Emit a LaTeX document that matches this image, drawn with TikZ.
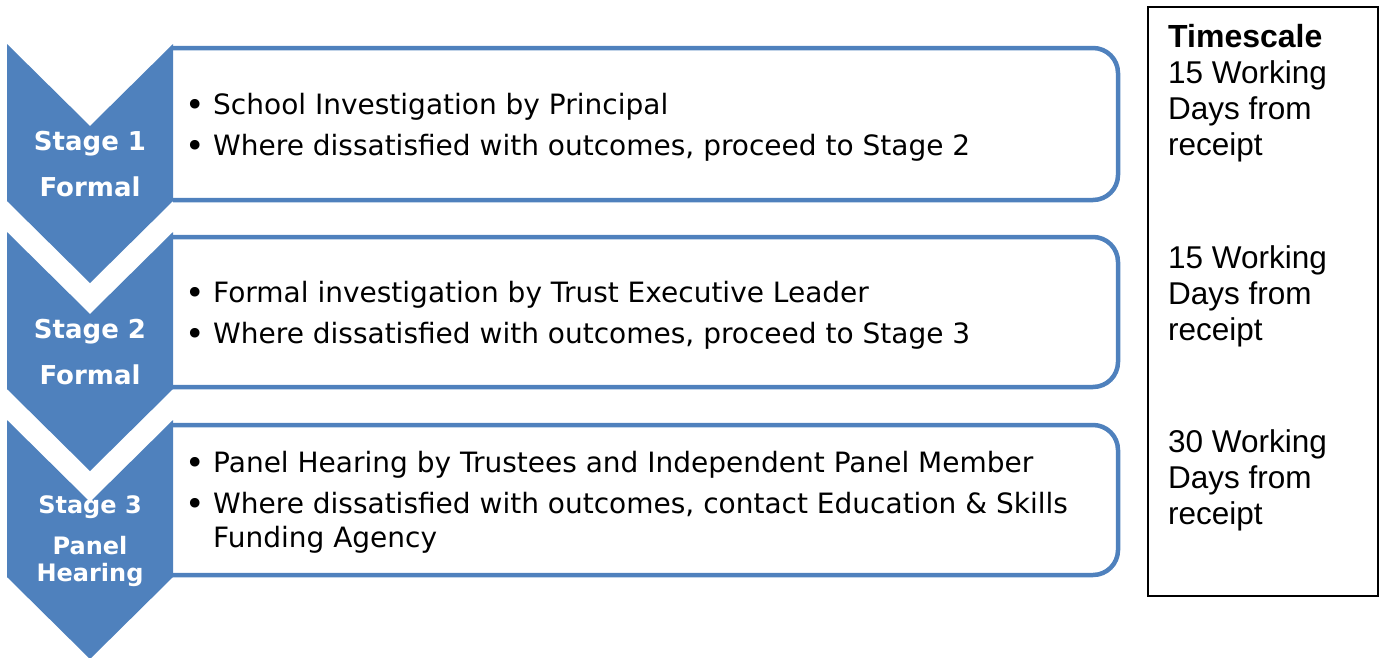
\documentclass[tikz,border=0pt]{standalone}
\usepackage{fontspec}
\setmainfont{DejaVu Sans}
\newfontfamily\arialfont{Liberation Sans}
\definecolor{stageblue}{HTML}{4F81BD}
\begin{document}
\begin{tikzpicture}[x=1pt,y=-1pt,
  chevron/.style={fill=stageblue,draw=none},
  stepbox/.style={draw=stageblue,line width=4.5pt,rounded corners=25pt},
  stagetext/.style={text=white,font=\fontsize{26}{31}\selectfont\bfseries,align=center,inner sep=0pt},
  smallstage/.style={stagetext,font=\fontsize{24}{28}\selectfont\bfseries},
  bodytext/.style={anchor=base west,inner sep=0pt,font=\fontsize{28}{33}\selectfont},
  bullettext/.style={anchor=base,inner sep=0pt,yshift=-2.5pt,font=\fontsize{33}{33}\selectfont},
  timetext/.style={anchor=base west,inner sep=0pt,font=\arialfont\fontsize{31.5}{36}\selectfont}]
\useasboundingbox (0,0) rectangle (1379,657);

% outlined content boxes, open on the side that meets the chevron
\draw[stepbox] (173,48) -- (1118,48) -- (1118,200) -- (173,200);
\draw[stepbox] (173,237) -- (1118,237) -- (1118,387) -- (173,387);
\draw[stepbox] (173,425) -- (1118,425) -- (1118,575) -- (173,575);

% downward chevrons
\foreach \t in {44,232,420}{
  \fill[chevron] (7,\t) -- (90,\t+82) -- (173,\t) -- (173,\t+157) -- (90,\t+239) -- (7,\t+157) -- cycle;
}

% stage labels
\node[stagetext] (s1a) at (90,144) {Stage 1};
\node[stagetext] (s1b) at (90,187) {Formal};
\node[stagetext] (s2a) at (90,332) {Stage 2};
\node[stagetext] (s2b) at (90,375) {Formal};
\node[smallstage] (s3a) at (90,507) {Stage 3};
\node[smallstage] (s3b) at (90,546) {Panel};
\node[smallstage] (s3c) at (90,575) {Hearing};

% box 1
\node[bullettext] (b11) at (195,114) {\textbullet};
\node[bodytext] (t11) at (213,114) {School Investigation by Principal};
\node[bullettext] (b12) at (195,155) {\textbullet};
\node[bodytext] (t12) at (213,155) {Where dissatisfied with outcomes, proceed to Stage 2};
% box 2
\node[bullettext] (b21) at (195,302) {\textbullet};
\node[bodytext] (t21) at (213,302) {Formal investigation by Trust Executive Leader};
\node[bullettext] (b22) at (195,343) {\textbullet};
\node[bodytext] (t22) at (213,343) {Where dissatisfied with outcomes, proceed to Stage 3};
% box 3
\node[bullettext] (b31) at (195,472) {\textbullet};
\node[bodytext] (t31) at (213,472) {Panel Hearing by Trustees and Independent Panel Member};
\node[bullettext] (b32) at (195,513) {\textbullet};
\node[bodytext] (t32) at (213,513) {Where dissatisfied with outcomes, contact Education \& Skills};
\node[bodytext] (t33) at (213,547) {Funding Agency};

% timescale column
\draw[line width=1.3pt] (1148,7) rectangle (1378,596);
\node[timetext,font=\arialfont\bfseries\fontsize{32}{36}\selectfont] (ts) at (1168,47) {Timescale};
\node[timetext] (a1) at (1168,83) {15 Working};
\node[timetext] (a2) at (1168,119) {Days from};
\node[timetext] (a3) at (1168,155) {receipt};
\node[timetext] (c1) at (1168,268) {15 Working};
\node[timetext] (c2) at (1168,304) {Days from};
\node[timetext] (c3) at (1168,340) {receipt};
\node[timetext] (d1) at (1168,452) {30 Working};
\node[timetext] (d2) at (1168,488) {Days from};
\node[timetext] (d3) at (1168,524) {receipt};
\end{tikzpicture}
\end{document}
